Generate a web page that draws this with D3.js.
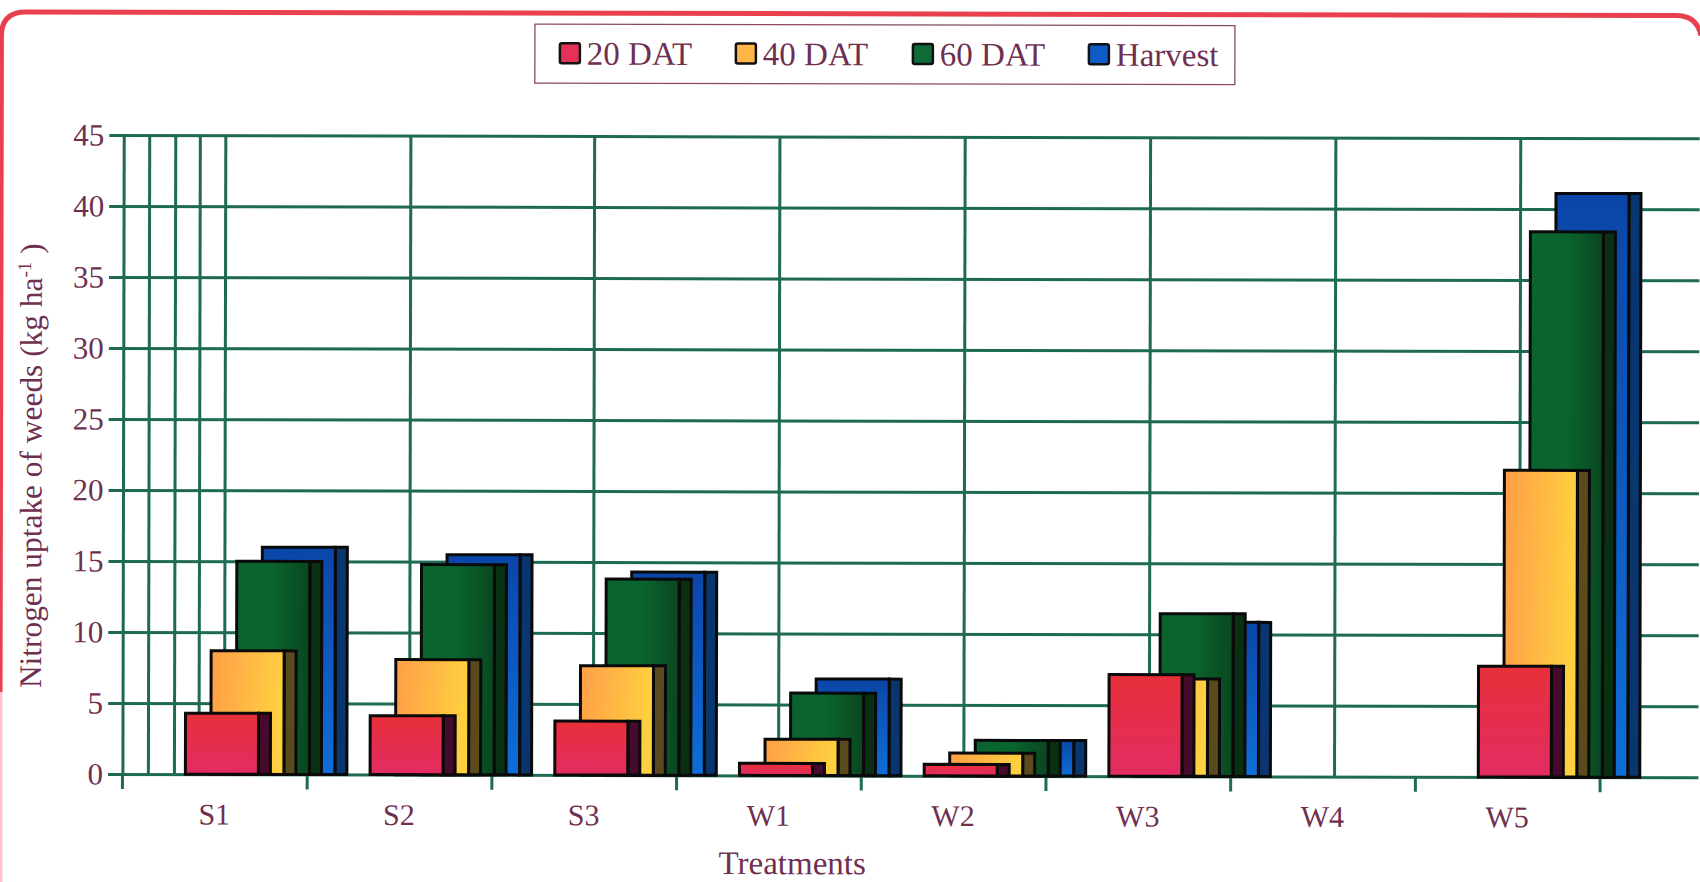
<!DOCTYPE html>
<html>
<head>
<meta charset="utf-8">
<script src="https://cdn.jsdelivr.net/npm/d3@7/dist/d3.min.js"></script>
<style>
  html, body { margin: 0; padding: 0; background: #fff; overflow: hidden; }
  svg { display: block; }
  text { font-family: "Liberation Serif", serif; fill: #6f3050; }
</style>
</head>
<body>
<svg id="chart" width="1700" height="882"></svg>
<script>
// Nitrogen uptake of weeds by treatment and sampling stage
const treatments = ["S1", "S2", "S3", "W1", "W2", "W3", "W4", "W5"];
const stages = ["20 DAT", "40 DAT", "60 DAT", "Harvest"];
const dat20 = [4.3, 4.15, 3.8, 0.85, 0.8, 7.15, 0, 7.8];
const dat40 = [8.7, 8.1, 7.7, 2.55, 1.6, 6.85, 0, 21.6];
const dat60 = [15.0, 14.8, 13.8, 5.8, 2.5, 11.45, 0, 38.4];
const harvest = [16.0, 15.5, 14.3, 6.8, 2.5, 10.85, 0, 41.1];
const stageValues = [dat20, dat40, dat60, harvest];
const yTicks = [0, 5, 10, 15, 20, 25, 30, 35, 40, 45];
// Vertical grid positions, in category units from the start of the axis
const verticalGrid = [0.005, 0.143, 0.284, 0.417, 0.555, 1.557, 2.552, 3.555, 4.558, 5.562, 6.565, 7.566];

const frontFill = ["url(#gRed)", "url(#gOrange)", "url(#gGreen)", "url(#gBlue)"];
const sideFill = ["#450a2c", "#5a4a1e", "#0a3014", "#0a3670"];
const swatchFill = ["#e5305a", "#ffb648", "#0f6a38", "#0f5cc8"];
const gridColor = "#1f6a55";

const svg = d3.select("#chart");

// Gradients for the front faces of the bars
const defs = svg.append("defs");
function gradient(id, x2, y2, stops) {
  const g = defs.append("linearGradient").attr("id", id)
    .attr("x1", 0).attr("y1", 0).attr("x2", x2).attr("y2", y2);
  stops.forEach((c, i) => g.append("stop")
    .attr("offset", i / (stops.length - 1)).attr("stop-color", c));
}
gradient("gRed", 0, 1, ["#e8303a", "#e22c62"]);
gradient("gOrange", 1, 0.15, ["#ff9e48", "#ffd040"]);
gradient("gGreen", 1, 0, ["#0a642e", "#0a642e", "#0a4620"]);
gradient("gBlue", 0, 1, ["#0a46a8", "#0f6ed8"]);

// The whole sheet sits very slightly askew
const root = svg.append("g").attr("transform", "rotate(0.12)");

// Rounded outer frame
root.append("path")
  .attr("d", "M1.5,692 L1.5,36 Q1.5,12 26,12 L1676,12 Q1697,12 1701,32")
  .attr("fill", "none").attr("stroke", "#e8404f").attr("stroke-width", 5);
svg.append("path")
  .attr("d", "M1,692 L1,882")
  .attr("fill", "none").attr("stroke", "#fbc4cc").attr("stroke-width", 3);

// Scales
const x0 = 123.6;
const categoryStep = 184.7;
const xBand = d3.scaleBand().domain(treatments).range([x0, x0 + categoryStep * treatments.length]);
const xUnits = d3.scaleLinear().domain([0, treatments.length]).range([x0, x0 + categoryStep * treatments.length]);
const xStage = d3.scaleBand().domain(stages).range([63.4, 165.4]);
const y = d3.scaleLinear().domain([0, 45]).range([773.8, 134.8]);
const barWidth = 73;
const depth = 12;

// Horizontal grid and value labels
const yAxis = d3.axisLeft(y).tickValues(yTicks).tickSize(1700 - x0 + 14).tickPadding(5);
const gy = root.append("g").attr("transform", "translate(1700,0)").call(yAxis);
gy.select(".domain").remove();
gy.selectAll(".tick line").attr("stroke", gridColor).attr("stroke-width", 3);
gy.selectAll(".tick text").attr("font-size", 31).attr("fill", "#6f3050");

// Vertical grid
root.append("g").selectAll("line").data(verticalGrid).join("line")
  .attr("x1", d => xUnits(d)).attr("x2", d => xUnits(d))
  .attr("y1", y(45)).attr("y2", y(0))
  .attr("stroke", gridColor).attr("stroke-width", 3);

// Category boundary ticks
const boundaryAxis = d3.axisBottom(xUnits).tickValues(d3.range(0, treatments.length + 1)).tickSize(15).tickFormat("");
const gb = root.append("g").attr("transform", `translate(0,${y(0)})`).call(boundaryAxis);
gb.select(".domain").remove();
gb.selectAll(".tick line").attr("stroke", gridColor).attr("stroke-width", 3);

// Category labels
const labelAxis = d3.axisBottom(xBand).tickSize(0).tickPadding(29);
const gl = root.append("g").attr("transform", `translate(0,${y(0)})`).call(labelAxis);
gl.select(".domain").remove();
gl.selectAll(".tick text").attr("font-size", 30).attr("fill", "#6f3050");

// Bars: the last stage sits at the back, the first at the front
const bars = root.append("g");
d3.range(stages.length - 1, -1, -1).forEach(s => {
  const rows = treatments
    .map((t, i) => ({ t, v: stageValues[s][i] }))
    .filter(d => d.v > 0);
  const g = bars.append("g");
  const left = d => xBand(d.t) + xStage(stages[s]);
  g.selectAll("rect.side").data(rows).join("rect").attr("class", "side")
    .attr("x", d => left(d) + barWidth).attr("width", depth)
    .attr("y", d => y(d.v)).attr("height", d => y(0) - y(d.v))
    .attr("fill", sideFill[s]).attr("stroke", "#0a0a0a").attr("stroke-width", 3);
  g.selectAll("rect.front").data(rows).join("rect").attr("class", "front")
    .attr("x", left).attr("width", barWidth)
    .attr("y", d => y(d.v)).attr("height", d => y(0) - y(d.v))
    .attr("fill", frontFill[s]).attr("stroke", "#0a0a0a").attr("stroke-width", 3);
});

// Legend
const legend = root.append("g");
legend.append("rect")
  .attr("x", 535).attr("y", 23).attr("width", 700).attr("height", 59)
  .attr("fill", "#fff").attr("stroke", "#8a4a62").attr("stroke-width", 1.3);
const legendX = [560, 736, 913, 1089];
const items = legend.selectAll("g.item").data(stages).join("g").attr("class", "item")
  .attr("transform", (d, i) => `translate(${legendX[i]},0)`);
items.append("rect")
  .attr("x", 0).attr("y", 42).attr("width", 20).attr("height", 20).attr("rx", 2)
  .attr("fill", (d, i) => swatchFill[i]).attr("stroke", "#111").attr("stroke-width", 2.5);
items.append("text")
  .attr("x", 27).attr("y", 63.5).attr("font-size", 33).text(d => d);

// Axis titles
root.append("text")
  .attr("x", 794).attr("y", 872.5).attr("text-anchor", "middle").attr("font-size", 33)
  .text("Treatments");
const yTitle = root.append("text")
  .attr("transform", "translate(42.5,688) rotate(-90)")
  .attr("font-size", 31.4);
yTitle.append("tspan").text("Nitrogen uptake of weeds (kg ha");
yTitle.append("tspan").attr("dy", -11).attr("font-size", 19).text("-1");
yTitle.append("tspan").attr("dy", 11).text(" )");
</script>
</body>
</html>
